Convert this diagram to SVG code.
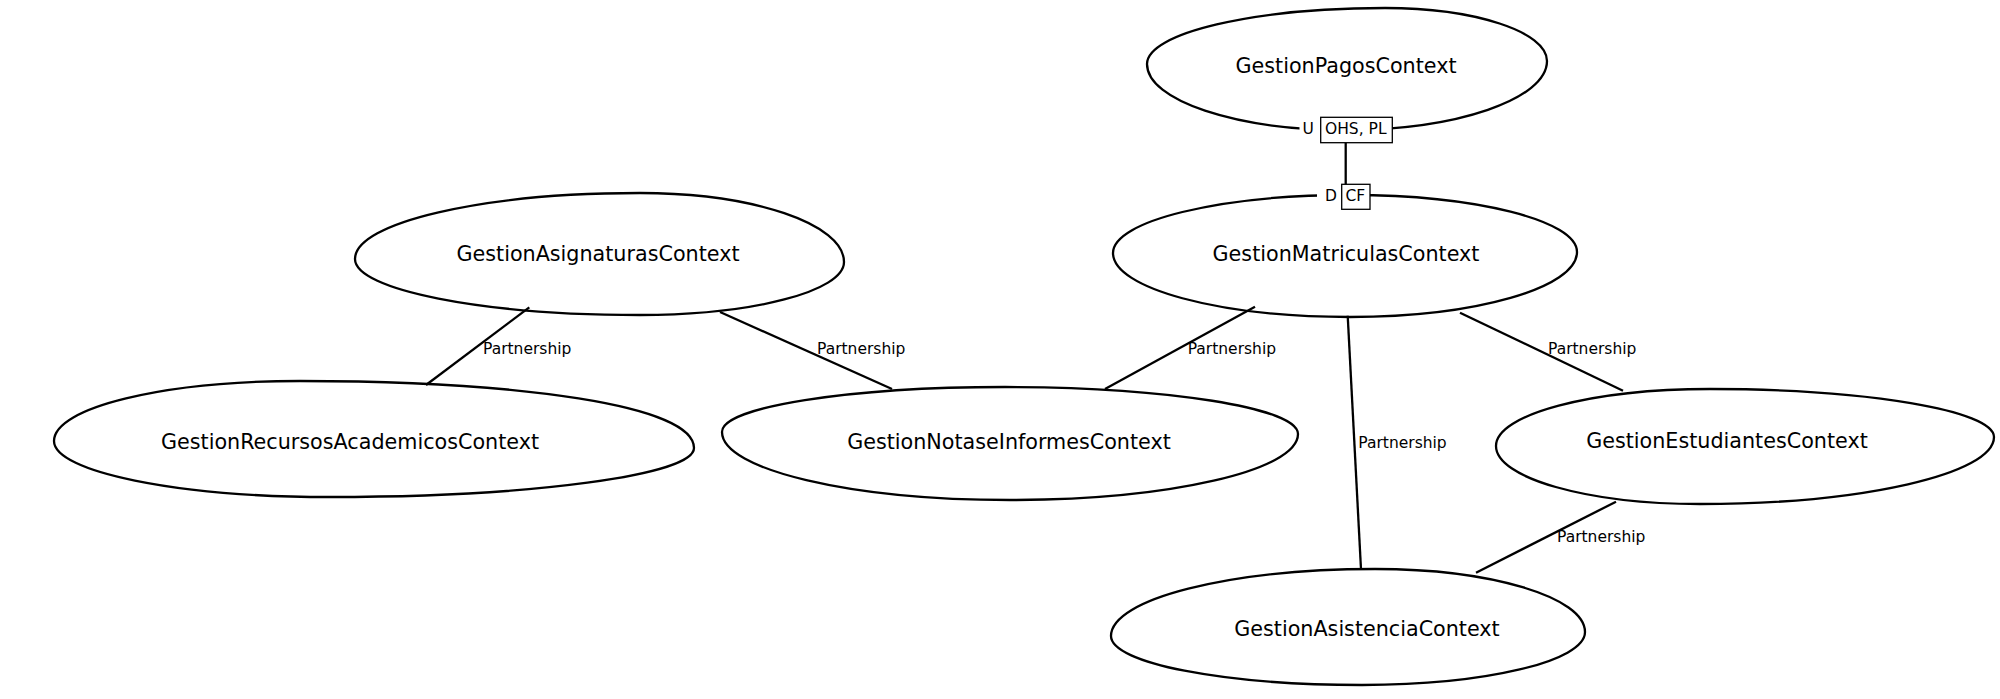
<svg xmlns="http://www.w3.org/2000/svg" width="2000" height="699" viewBox="0 0 2000 699">
<style>
.bg{fill:#ffffff}
.node path{fill:#ffffff;stroke:#000000;stroke-width:2.3}
.node text{font-family:"DejaVu Sans",sans-serif;font-size:20.7px;fill:#000000;text-anchor:middle}
.conn line{stroke:#000000;stroke-width:2.3}
.lbl{font-family:"DejaVu Sans",sans-serif;font-size:15.5px;fill:#000000}
.box{fill:#ffffff;stroke:#000000;stroke-width:1.3}
.mask{fill:#ffffff}
</style>
<rect class="bg" x="0" y="0" width="2000" height="699"/>
<g id="GestionPagosContext" class="node">
<path d="M1147,64 C1147,33.1 1253.6,8 1385,8 C1474.5,8 1547,31.7 1547,61 C1547,99.1 1456.6,130 1345,130 C1235.6,130 1147,100.5 1147,64Z"/>
<text x="1346" y="72.5">GestionPagosContext</text>
</g>
<g id="GestionMatriculasContext" class="node">
<path d="M1113,253 C1113,221 1219.1,195 1350,195 C1475.4,195 1577,220.5 1577,252 C1577,287.9 1475.4,317 1350,317 C1219.1,317 1113,288.3 1113,253Z"/>
<text x="1346" y="260.7">GestionMatriculasContext</text>
</g>
<g id="GestionAsignaturasContext" class="node">
<path d="M355,259 C355,222.5 482.6,193 640,193 C752.7,193 844,223.9 844,262 C844,291.3 752.7,315 640,315 C482.6,315 355,289.9 355,259Z"/>
<text x="598" y="260.7">GestionAsignaturasContext</text>
</g>
<g id="GestionRecursosAcademicosContext" class="node">
<path d="M54,441 C54,407.3 164.1,381 300,381 C517.6,381 694,405 694,448 C694,475.1 531,497 330,497 C177.6,497 54,471.9 54,441Z"/>
<text x="350" y="449">GestionRecursosAcademicosContext</text>
</g>
<g id="GestionNotaseInformesContext" class="node">
<path d="M722,432 C722,407.1 848.7,387 1005,387 C1166.8,387 1298,408 1298,434 C1298,470.5 1169.1,500 1010,500 C850.9,500 722,469.6 722,432Z"/>
<text x="1009" y="449">GestionNotaseInformesContext</text>
</g>
<g id="GestionEstudiantesContext" class="node">
<path d="M1496,446 C1496,414.5 1591.8,389 1710,389 C1866.9,389 1994,410.5 1994,437 C1994,474 1862.4,504 1700,504 C1587.3,504 1496,478 1496,446Z"/>
<text x="1727" y="448">GestionEstudiantesContext</text>
</g>
<g id="GestionAsistenciaContext" class="node">
<path d="M1111,636 C1111,599 1229.2,569 1375,569 C1491,569 1585,597.2 1585,632 C1585,661.3 1485.2,685 1362,685 C1223.4,685 1111,663.1 1111,636Z"/>
<text x="1367" y="636">GestionAsistenciaContext</text>
</g>
<g id="connectors" class="conn">
<line x1="529.3" y1="307.3" x2="426" y2="385"/>
<text class="lbl" x="483" y="354">Partnership</text>
<line x1="720" y1="312" x2="892" y2="389"/>
<text class="lbl" x="817" y="354">Partnership</text>
<line x1="1255" y1="306.7" x2="1105" y2="389"/>
<text class="lbl" x="1187.7" y="354">Partnership</text>
<line x1="1460" y1="312.7" x2="1623" y2="390.7"/>
<text class="lbl" x="1548" y="354">Partnership</text>
<line x1="1347.7" y1="315.7" x2="1361" y2="569.3"/>
<text class="lbl" x="1358.3" y="448">Partnership</text>
<line x1="1616" y1="501.7" x2="1476" y2="572.7"/>
<text class="lbl" x="1557" y="541.7">Partnership</text>
<g id="pagos-matriculas">
<line x1="1345.7" y1="142.7" x2="1345.7" y2="184.3"/>
<rect class="mask" x="1299.5" y="118" width="21.5" height="24"/>
<text class="lbl" x="1302.5" y="134.3">U</text>
<rect class="box" x="1320.7" y="117.3" width="71.6" height="25.4"/>
<text class="lbl" x="1325" y="134.3">OHS, PL</text>
<rect class="mask" x="1317" y="185" width="25" height="24"/>
<text class="lbl" x="1325" y="201">D</text>
<rect class="box" x="1341.7" y="184.3" width="28.3" height="25"/>
<text class="lbl" x="1345.5" y="201">CF</text>
</g>
</g>
</svg>
